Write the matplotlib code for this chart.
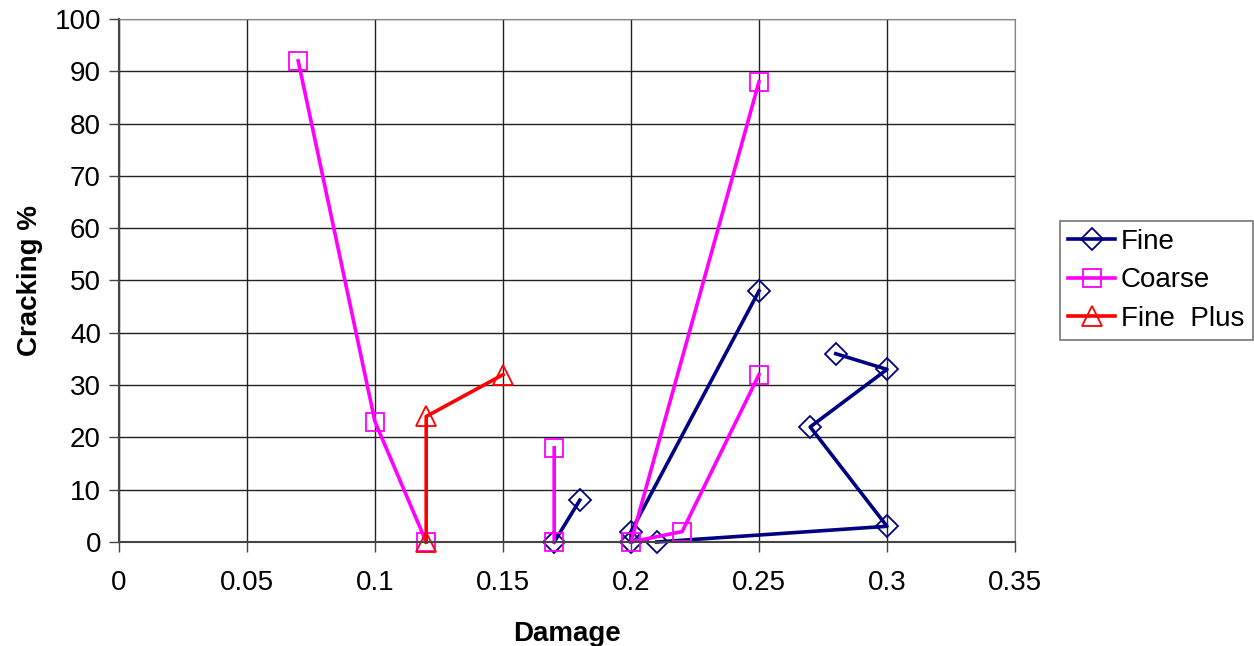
import numpy as np
import matplotlib.pyplot as plt

plt.rcParams['font.family'] = ['Liberation Sans', 'DejaVu Sans']

# Fine series (NaN = break in line)
fine_x = [0.17, 0.18, np.nan, 0.20, 0.20, 0.25, np.nan, 0.21, 0.30, 0.27, 0.30, 0.28]
fine_y = [0, 8, np.nan, 0, 2, 48, np.nan, 0, 3, 22, 33, 36]

# Coarse series
coarse_x = [0.07, 0.10, 0.12, np.nan, 0.17, 0.17, np.nan, 0.25, 0.20, 0.22, 0.25]
coarse_y = [92, 23, 0, np.nan, 18, 0, np.nan, 88, 0, 2, 32]

# Fine Plus series
plus_x = [0.12, 0.12, 0.15]
plus_y = [0, 24, 32]

fig = plt.figure(figsize=(12.54, 6.46), dpi=100)
ax = fig.add_axes([0.0949, 0.161, 0.7145, 0.8096])

ax.plot(fine_x, fine_y, color='#000080', lw=2.6, marker='D', ms=11,
        mfc='none', mec='#000080', mew=1.3, label='Fine', clip_on=False)
ax.plot(coarse_x, coarse_y, color='#FF00FF', lw=2.6, marker='s', ms=13,
        mfc='none', mec='#FF00FF', mew=1.3, label='Coarse', clip_on=False)
ax.plot(plus_x, plus_y, color='#FF0000', lw=2.6, marker='^', ms=14,
        mfc='none', mec='#FF0000', mew=1.3, label='Fine  Plus', clip_on=False)

ax.set_xlim(0, 0.35)
ax.set_ylim(0, 100)
ax.set_xticks(np.arange(0, 0.351, 0.05))
ax.set_xticklabels(['0', '0.05', '0.1', '0.15', '0.2', '0.25', '0.3', '0.35'])
ax.set_yticks(np.arange(0, 101, 10))
ax.grid(True, color='#222222', lw=1)
ax.set_axisbelow(True)
ax.tick_params(labelsize=20, length=7, width=1, color='#444444', direction='out')
ax.tick_params(axis='x', pad=13)
ax.tick_params(axis='y', pad=6)
for s in ax.spines.values():
    s.set_color('#888888')
ax.spines['left'].set_color('#444444')
ax.spines['left'].set_linewidth(1.5)
ax.spines['bottom'].set_color('#444444')
ax.spines['bottom'].set_linewidth(1.5)

ax.set_xlabel('Damage', fontsize=20, fontweight='bold', labelpad=18)
ax.set_ylabel('Cracking %', fontsize=20, fontweight='bold', labelpad=8)

leg = ax.legend(loc='center left', bbox_to_anchor=(1.05, 0.50), fontsize=20,
                frameon=True, fancybox=False, edgecolor='#555555',
                handlelength=1.7, borderpad=0.3, labelspacing=0.45,
                handletextpad=0.2, borderaxespad=0)
leg.get_frame().set_linewidth(1.2)

fig.savefig('out.png', dpi=100)
